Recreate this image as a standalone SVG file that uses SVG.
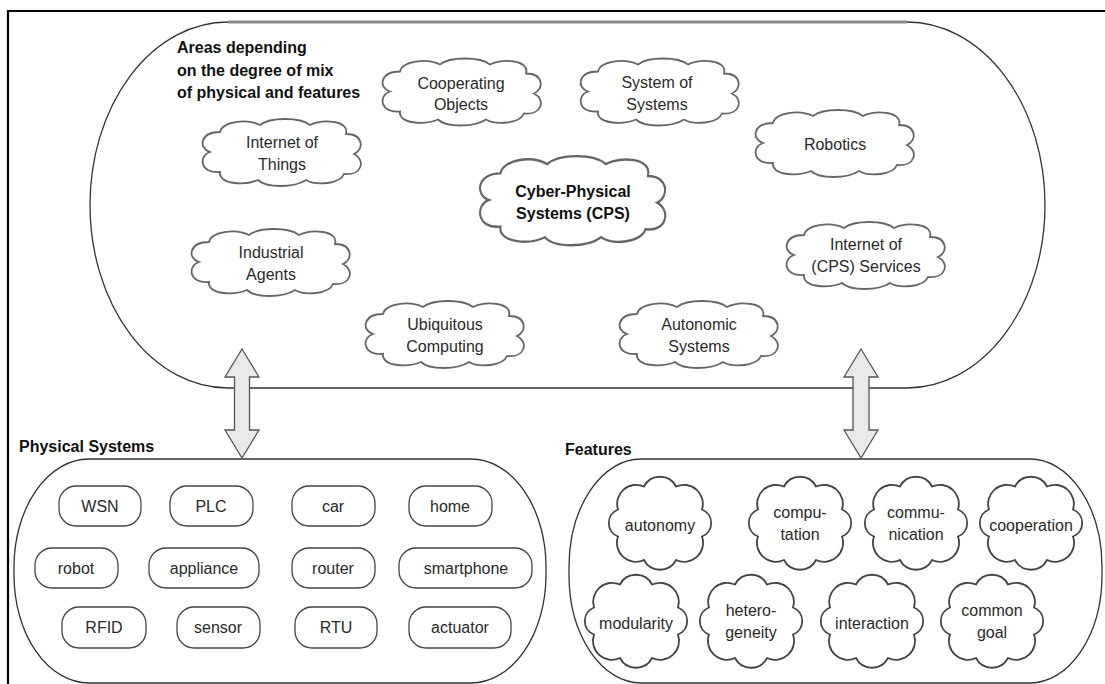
<svg xmlns="http://www.w3.org/2000/svg" xmlns:xlink="http://www.w3.org/1999/xlink" width="1105" height="684" viewBox="0 0 1105 684">
  <style>
    .txt { font-family: "Liberation Sans", Arial, sans-serif; font-size: 16px; fill: #2a2a2a; text-anchor: middle; }
    .bold { font-weight: bold; fill: #111; }
    .label { font-family: "Liberation Sans", Arial, sans-serif; font-size: 16px; font-weight: bold; fill: #111; }
    .cloud { fill: #fff; stroke: #666; stroke-width: 1.8; vector-effect: non-scaling-stroke; }
    .flower { fill: #fff; stroke: #444; stroke-width: 1.8; }
    .pill { fill: #fff; stroke: #444; stroke-width: 1.3; }
    .group { fill: none; stroke: #333; stroke-width: 1.3; }
    .dblarrow { fill: #e9e9e9; stroke: #555; stroke-width: 1.3; stroke-linejoin: miter; }
  </style>
  <defs>
    <!-- generic cloud outline, 160 x 64 centred on origin -->
    <path id="cloudShape" d="M -72 0 C -84 -4, -82 -20, -62 -20 C -60 -30, -36 -34, -22 -27 C -12 -35, 18 -35, 28 -27 C 40 -33, 68 -32, 64 -18 C 82 -18, 82 -2, 72 2 C 84 8, 80 24, 62 22 C 58 32, 34 34, 24 28 C 12 36, -16 36, -24 28 C -38 34, -64 32, -62 20 C -82 22, -84 4, -72 0 Z"/>
    <!-- eight-lobed feature outline, about 102 x 93 centred on origin -->
    <path id="flowerShape" d="M -16 -36.5 A 18 18 0 0 1 16 -36.5 A 19 19 0 0 1 42 -13.5 A 14.5 14.5 0 0 1 42 13.5 A 19 19 0 0 1 16 37 A 18 18 0 0 1 -16 37 A 19 19 0 0 1 -42 13.5 A 14.5 14.5 0 0 1 -42 -13.5 A 19 19 0 0 1 -16 -36.5 Z"/>
  </defs>

  <rect width="1105" height="684" fill="#fff"/>
  <!-- outer frame -->
  <path d="M 8 684 V 11 H 1105" fill="none" stroke="#000" stroke-width="2.2"/>

  <!-- upper area: CPS related fields -->
  <g id="areas">
    <path class="group" d="M 228 22 H 907 A 138 183 0 0 1 907 388 H 228 A 138 183 0 0 1 228 22 Z"/>
    <path d="M 228 22 H 907" stroke="#888" stroke-width="3" fill="none"/>
    <text class="label" x="177" y="53">Areas depending</text>
    <text class="label" x="177" y="76">on the degree of mix</text>
    <text class="label" x="177" y="98">of physical and features</text>
  </g>

  <g id="cooperating-objects">
    <use xlink:href="#cloudShape" class="cloud" transform="translate(462,91.5)"/>
    <text class="txt" x="461" y="89">Cooperating</text>
    <text class="txt" x="461" y="110">Objects</text>
  </g>
  <g id="system-of-systems">
    <use xlink:href="#cloudShape" class="cloud" transform="translate(660,91.5)"/>
    <text class="txt" x="657" y="88">System of</text>
    <text class="txt" x="657" y="110">Systems</text>
  </g>
  <g id="internet-of-things">
    <use xlink:href="#cloudShape" class="cloud" transform="translate(282,152)"/>
    <text class="txt" x="282" y="148">Internet of</text>
    <text class="txt" x="282" y="170">Things</text>
  </g>
  <g id="robotics">
    <use xlink:href="#cloudShape" class="cloud" transform="translate(835,143)"/>
    <text class="txt" x="835" y="150">Robotics</text>
  </g>
  <g id="cps">
    <use xlink:href="#cloudShape" class="cloud" transform="translate(573,200) scale(1.17,1.33)"/>
    <text class="txt bold" x="573" y="197">Cyber-Physical</text>
    <text class="txt bold" x="573" y="219">Systems (CPS)</text>
  </g>
  <g id="industrial-agents">
    <use xlink:href="#cloudShape" class="cloud" transform="translate(271,262)"/>
    <text class="txt" x="271" y="258">Industrial</text>
    <text class="txt" x="271" y="280">Agents</text>
  </g>
  <g id="internet-of-services">
    <use xlink:href="#cloudShape" class="cloud" transform="translate(866,255)"/>
    <text class="txt" x="866" y="250">Internet of</text>
    <text class="txt" x="866" y="272">(CPS) Services</text>
  </g>
  <g id="ubiquitous-computing">
    <use xlink:href="#cloudShape" class="cloud" transform="translate(445,334)"/>
    <text class="txt" x="445" y="330">Ubiquitous</text>
    <text class="txt" x="445" y="352">Computing</text>
  </g>
  <g id="autonomic-systems">
    <use xlink:href="#cloudShape" class="cloud" transform="translate(699,334)"/>
    <text class="txt" x="699" y="330">Autonomic</text>
    <text class="txt" x="699" y="352">Systems</text>
  </g>

  <!-- lower left: physical systems -->
  <g id="physical-systems">
    <text class="label" x="19" y="452">Physical Systems</text>
    <rect class="group" x="14" y="459" width="532" height="224" rx="75" ry="108"/>
  </g>
  <g id="pills">
    <g id="wsn"><rect class="pill" x="59" y="486" width="82" height="40" rx="17"/><text class="txt" x="100" y="512">WSN</text></g>
    <g id="plc"><rect class="pill" x="170" y="486" width="83" height="40" rx="17"/><text class="txt" x="211" y="512">PLC</text></g>
    <g id="car"><rect class="pill" x="292" y="486" width="83" height="40" rx="17"/><text class="txt" x="333" y="512">car</text></g>
    <g id="home"><rect class="pill" x="409" y="486" width="83" height="40" rx="17"/><text class="txt" x="450" y="512">home</text></g>
    <g id="robot"><rect class="pill" x="35" y="548" width="83" height="40" rx="17"/><text class="txt" x="76" y="574">robot</text></g>
    <g id="appliance"><rect class="pill" x="149" y="548" width="110" height="40" rx="17"/><text class="txt" x="204" y="574">appliance</text></g>
    <g id="router"><rect class="pill" x="292" y="548" width="83" height="40" rx="17"/><text class="txt" x="333" y="574">router</text></g>
    <g id="smartphone"><rect class="pill" x="399" y="548" width="133" height="40" rx="17"/><text class="txt" x="466" y="574">smartphone</text></g>
    <g id="rfid"><rect class="pill" x="62" y="607" width="84" height="41" rx="17"/><text class="txt" x="104" y="633">RFID</text></g>
    <g id="sensor"><rect class="pill" x="177" y="607" width="83" height="41" rx="17"/><text class="txt" x="218" y="633">sensor</text></g>
    <g id="rtu"><rect class="pill" x="295" y="607" width="82" height="41" rx="17"/><text class="txt" x="336" y="633">RTU</text></g>
    <g id="actuator"><rect class="pill" x="409" y="607" width="102" height="41" rx="17"/><text class="txt" x="460" y="633">actuator</text></g>
  </g>

  <!-- lower right: features -->
  <g id="features">
    <text class="label" x="565" y="455">Features</text>
    <rect class="group" x="569" y="459" width="533" height="224" rx="72" ry="108"/>
  </g>
  <g id="autonomy"><use xlink:href="#flowerShape" class="flower" transform="translate(660,523)"/><text class="txt" x="660" y="531">autonomy</text></g>
  <g id="computation"><use xlink:href="#flowerShape" class="flower" transform="translate(800,523)"/><text class="txt" x="800" y="518">compu-</text><text class="txt" x="800" y="540">tation</text></g>
  <g id="communication"><use xlink:href="#flowerShape" class="flower" transform="translate(916,523)"/><text class="txt" x="916" y="518">commu-</text><text class="txt" x="916" y="540">nication</text></g>
  <g id="cooperation"><use xlink:href="#flowerShape" class="flower" transform="translate(1031,523)"/><text class="txt" x="1031" y="531">cooperation</text></g>
  <g id="modularity"><use xlink:href="#flowerShape" class="flower" transform="translate(636,621)"/><text class="txt" x="636" y="629">modularity</text></g>
  <g id="heterogeneity"><use xlink:href="#flowerShape" class="flower" transform="translate(751,621)"/><text class="txt" x="751" y="616">hetero-</text><text class="txt" x="751" y="638">geneity</text></g>
  <g id="interaction"><use xlink:href="#flowerShape" class="flower" transform="translate(872,621)"/><text class="txt" x="872" y="629">interaction</text></g>
  <g id="common-goal"><use xlink:href="#flowerShape" class="flower" transform="translate(992,621)"/><text class="txt" x="992" y="616">common</text><text class="txt" x="992" y="638">goal</text></g>

  <!-- double block arrows linking the areas with both groups -->
  <g id="connectors">
    <path class="dblarrow" d="M 242 349 L 259 377 L 249.5 377 L 249.5 430 L 259 430 L 242 458 L 225 430 L 234.5 430 L 234.5 377 L 225 377 Z"/>
    <path class="dblarrow" d="M 861 349 L 878 377 L 869 377 L 869 430 L 878 430 L 861 458 L 844 430 L 853 430 L 853 377 L 844 377 Z"/>
  </g>
</svg>
